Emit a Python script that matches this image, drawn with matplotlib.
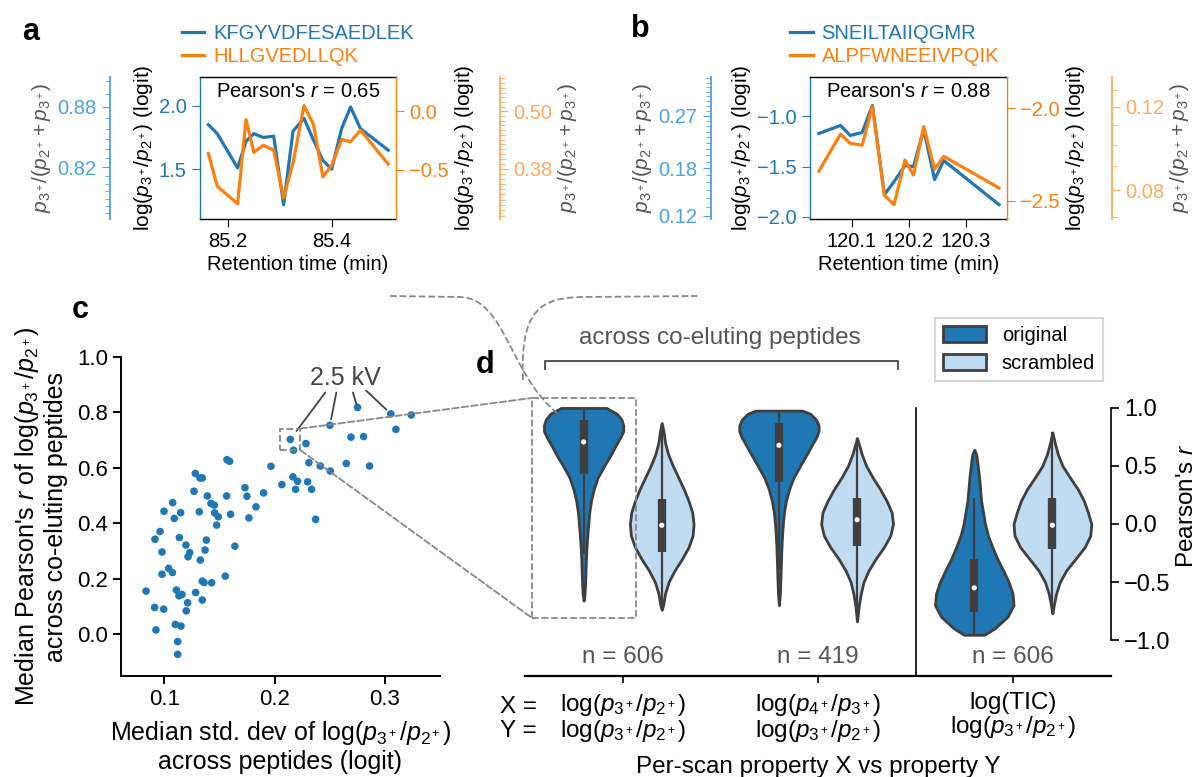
import numpy as np
import matplotlib
matplotlib.use('Agg')
import matplotlib.pyplot as plt
from matplotlib.ticker import MultipleLocator, FuncFormatter
from matplotlib.patches import Rectangle, Patch, PathPatch, ConnectionPatch
from matplotlib.path import Path

plt.rcParams['font.family'] = ['Liberation Sans', 'DejaVu Sans']
plt.rcParams['mathtext.fontset'] = 'custom'
plt.rcParams['mathtext.rm'] = 'Liberation Sans'
plt.rcParams['mathtext.it'] = 'Liberation Sans:italic'
plt.rcParams['mathtext.bf'] = 'Liberation Sans:bold'
plt.rcParams['axes.linewidth'] = 1.0

# ---- panel a: two co-eluting peptides, logit of charge ratio ----
a_names = ['KFGYVDFESAEDLEK', 'HLLGVEDLLQK']
a_time = [85.163, 85.180, 85.219, 85.235, 85.250, 85.268, 85.288, 85.307, 85.325,
          85.346, 85.364, 85.382, 85.399, 85.418, 85.435, 85.454, 85.507]
a_blue = [1.85, 1.78, 1.51, 1.72, 1.78, 1.75, 1.76, 1.22, 1.80,
          1.90, 1.73, 1.57, 1.50, 1.82, 1.99, 1.82, 1.65]
a_orange = [-0.36, -0.64, -0.79, -0.07, -0.35, -0.29, -0.33, -0.74, -0.44,
            0.05, -0.11, -0.56, -0.46, -0.24, -0.26, -0.16, -0.45]
a_r = 0.65

# ---- panel b ----
b_names = ['SNEILTAIIQGMR', 'ALPFWNEEIVPQIK']
b_time = [120.042, 120.080, 120.097, 120.118, 120.136, 120.157, 120.174,
          120.193, 120.208, 120.226, 120.245, 120.261, 120.358]
b_blue = [-1.17, -1.09, -1.19, -1.16, -0.89, -1.78, -1.65,
          -1.49, -1.50, -1.13, -1.63, -1.44, -1.88]
b_orange = [-2.34, -2.14, -2.19, -2.20, -1.99, -2.47, -2.52,
            -2.28, -2.36, -2.10, -2.33, -2.26, -2.43]
b_r = 0.88

# ---- panel c: per-run medians ----
c_std = [0.0834, 0.0912, 0.0924, 0.0915, 0.0961, 0.0979, 0.0979, 0.0994, 0.0997, 0.1039,
         0.1073, 0.1076, 0.1091, 0.1100, 0.1109, 0.1121, 0.1121, 0.1133, 0.1136, 0.1148,
         0.1151, 0.1160, 0.1196, 0.1199, 0.1211, 0.1215, 0.1230, 0.1269, 0.1281, 0.1284,
         0.1317, 0.1323, 0.1326, 0.1344, 0.1344, 0.1344, 0.1360, 0.1369, 0.1381, 0.1390,
         0.1423, 0.1429, 0.1453, 0.1456, 0.1474, 0.1489, 0.1553, 0.1565, 0.1568, 0.1592,
         0.1601, 0.1640, 0.1731, 0.1749, 0.1767, 0.1831, 0.1900, 0.1967, 0.2066, 0.2142,
         0.2166, 0.2172, 0.2190, 0.2208, 0.2284, 0.2299, 0.2311, 0.2335, 0.2372, 0.2414,
         0.2502, 0.2505, 0.2650, 0.2692, 0.2752, 0.2807, 0.2861, 0.3054, 0.3100, 0.3239]
c_r = [0.156, 0.097, 0.016, 0.343, 0.371, 0.297, 0.217, 0.091, 0.444, 0.238,
       0.223, 0.475, 0.418, 0.036, 0.160, -0.026, -0.072, 0.139, 0.349, 0.439,
       0.030, 0.144, 0.322, 0.085, 0.114, 0.280, 0.295, 0.516, 0.580, 0.151,
       0.442, 0.564, 0.268, 0.564, 0.192, 0.124, 0.187, 0.304, 0.340, 0.499,
       0.472, 0.186, 0.466, 0.438, 0.394, 0.424, 0.210, 0.499, 0.630, 0.624,
       0.433, 0.318, 0.529, 0.498, 0.420, 0.460, 0.510, 0.606, 0.540, 0.703,
       0.568, 0.664, 0.523, 0.552, 0.688, 0.550, 0.619, 0.523, 0.415, 0.607,
       0.754, 0.589, 0.616, 0.711, 0.818, 0.713, 0.607, 0.795, 0.739, 0.791]
kv_points = [(0.2142, 0.703), (0.2502, 0.754), (0.2752, 0.818), (0.3054, 0.795)]

# ---- panel d: violin outlines (r level, half width) ----
d_groups = [r'log($p_{3^+}/p_{2^+}$)' + '\n' + r'log($p_{3^+}/p_{2^+}$)',
            r'log($p_{4^+}/p_{3^+}$)' + '\n' + r'log($p_{3^+}/p_{2^+}$)',
            'log(TIC)\n' + r'log($p_{3^+}/p_{2^+}$)']
d_counts = [606, 419, 606]
d_hue = ['original', 'scrambled']
v_levels = [
    [1.0, 0.95, 0.9, 0.85, 0.8, 0.75, 0.7, 0.6, 0.5, 0.4, 0.3, 0.2, 0.1, 0.0, -0.1, -0.2, -0.3, -0.4, -0.5, -0.6, -0.66],
    [0.87, 0.8, 0.7, 0.6, 0.5, 0.4, 0.3, 0.2, 0.1, 0.0, -0.1, -0.2, -0.3, -0.4, -0.5, -0.6, -0.7, -0.74],
    [0.977, 0.95, 0.9, 0.85, 0.8, 0.75, 0.7, 0.6, 0.5, 0.4, 0.3, 0.2, 0.1, 0.0, -0.1, -0.2, -0.3, -0.4, -0.5, -0.6, -0.7],
    [0.74, 0.7, 0.6, 0.5, 0.4, 0.3, 0.2, 0.1, 0.0, -0.1, -0.2, -0.3, -0.4, -0.5, -0.6, -0.7, -0.84],
    [0.64, 0.6, 0.5, 0.4, 0.3, 0.2, 0.1, 0.0, -0.1, -0.2, -0.3, -0.4, -0.5, -0.6, -0.7, -0.8, -0.9, -0.955],
    [0.79, 0.7, 0.6, 0.5, 0.4, 0.3, 0.2, 0.1, 0.0, -0.1, -0.2, -0.3, -0.4, -0.5, -0.6, -0.7, -0.77],
]
v_halfwidth = [
    [0.116, 0.170, 0.194, 0.203, 0.203, 0.189, 0.172, 0.140, 0.105, 0.072, 0.052, 0.038, 0.029, 0.024, 0.019, 0.015, 0.012, 0.010, 0.008, 0.005, 0.0],
    [0.0, 0.009, 0.017, 0.033, 0.057, 0.085, 0.113, 0.137, 0.156, 0.163, 0.158, 0.137, 0.104, 0.066, 0.035, 0.017, 0.007, 0.0],
    [0.120, 0.160, 0.190, 0.203, 0.203, 0.192, 0.175, 0.142, 0.108, 0.075, 0.052, 0.036, 0.026, 0.020, 0.016, 0.013, 0.011, 0.009, 0.007, 0.005, 0.0],
    [0.0, 0.007, 0.024, 0.047, 0.080, 0.118, 0.151, 0.177, 0.184, 0.170, 0.137, 0.095, 0.059, 0.033, 0.019, 0.009, 0.0],
    [0.0, 0.010, 0.018, 0.025, 0.030, 0.035, 0.045, 0.055, 0.070, 0.093, 0.118, 0.148, 0.176, 0.196, 0.201, 0.170, 0.104, 0.052],
    [0.0, 0.012, 0.028, 0.052, 0.090, 0.130, 0.161, 0.182, 0.199, 0.194, 0.165, 0.118, 0.071, 0.038, 0.019, 0.007, 0.0],
]
v_q1 = [0.434, -0.244, 0.362, -0.193, -0.76, -0.213]
v_q3 = [0.894, 0.216, 0.871, 0.224, -0.30, 0.224]
v_median = [0.707, -0.011, 0.678, 0.037, -0.55, -0.011]
v_wlo = [-0.26, -0.74, -0.40, -0.84, -0.955, -0.77]
v_whi = [1.0, 0.87, 0.977, 0.74, 0.22, 0.79]

BLUE = '#1f77b4'
ORANGE = '#ff7f0e'
LBLUE = '#4ba3e3'
LORANGE = '#ffa95c'
GRAY = '#555555'
DARK = '#3f3f3f'
ORIG = '#1f77b4'
SCRAM = '#c0dcf2'

FS_AB = 14.5
FS_D = 17.5

W, H = 1202, 777
fig = plt.figure(figsize=(W / 100, H / 100), dpi=100)


def rect(left, top, right, bottom):
    return [left / W, 1 - bottom / H, (right - left) / W, (bottom - top) / H]


def fpx(x, y):
    return (x / W, 1 - y / H)


def expit(x):
    return 1 / (1 + np.exp(-np.asarray(x, dtype=float)))


def logit(p):
    p = np.clip(np.asarray(p, dtype=float), 1e-9, 1 - 1e-9)
    return np.log(p / (1 - p))


two_dec = FuncFormatter(lambda v, pos: f'{v:.2f}')
ratio_label = r'log($p_{3^+}/p_{2^+}$) (logit)'
frac_label = r'$p_{3^+}/(p_{2^+} + p_{3^+})$'


def far_axis(parent, pos, ticks, color):
    sec = parent.secondary_yaxis(pos, functions=(expit, logit))
    sec.set_yticks(ticks)
    sec.yaxis.set_minor_locator(MultipleLocator(0.01))
    sec.yaxis.set_major_formatter(two_dec)
    sec.tick_params(axis='y', which='both', colors=color, labelsize=FS_AB)
    sec.tick_params(axis='y', which='major', length=6)
    sec.tick_params(axis='y', which='minor', length=3.5)
    for s in sec.spines.values():
        s.set_color(color)
        s.set_linewidth(1.3)
    sec.set_ylabel(frac_label, fontsize=15, color=GRAY, labelpad=3)
    return sec


def ratio_panel(box, t, yb, yo, names, r, xticks, xlim, ylb, ylo, tb, to, fl, fr,
                pos_l, pos_r, leg_x):
    ax = fig.add_axes(box)
    axr = ax.twinx()
    lb, = ax.plot(t, yb, color=BLUE, lw=2.3, label=names[0])
    lo, = axr.plot(t, yo, color=ORANGE, lw=2.3, label=names[1])
    ax.set_xlim(xlim)
    ax.set_ylim(ylb)
    axr.set_ylim(ylo)
    ax.set_xticks(xticks)
    ax.set_yticks(tb)
    axr.set_yticks(to)
    ax.tick_params(labelsize=FS_AB, length=6)
    axr.tick_params(labelsize=FS_AB, length=6)
    ax.tick_params(axis='y', colors=BLUE)
    axr.tick_params(axis='y', colors=ORANGE)
    ax.spines['left'].set_color(BLUE)
    ax.spines['right'].set_visible(False)
    for s in ['left', 'top', 'bottom']:
        axr.spines[s].set_visible(False)
    axr.spines['right'].set_color(ORANGE)
    ax.set_xlabel('Retention time (min)', fontsize=FS_AB, labelpad=3)
    ax.set_ylabel(ratio_label, fontsize=15, labelpad=3)
    axr.set_ylabel(ratio_label, fontsize=15, labelpad=3)
    ax.text(0.5, 0.9, f"Pearson's $r$ = {r:.2f}", transform=ax.transAxes,
            ha='center', va='center', fontsize=FS_AB, zorder=5)
    ax.legend(handles=[lb, lo], loc='lower center', bbox_to_anchor=(leg_x, 1.0),
              frameon=False, labelcolor='linecolor', fontsize=FS_AB, handlelength=1.1,
              handletextpad=0.45, borderaxespad=0.15, labelspacing=0.2)
    far_axis(ax, pos_l, fl, LBLUE)
    far_axis(axr, pos_r, fr, LORANGE)
    return ax


ratio_panel(rect(200, 77, 396, 219), a_time, a_blue, a_orange, a_names, a_r,
            [85.2, 85.4], (85.147, 85.522), (1.108, 2.226), (-0.92, 0.294),
            [1.5, 2.0], [-0.5, 0.0], [0.82, 0.88], [0.38, 0.50], -0.459, 1.53, 0.5)
ratio_panel(rect(810, 77, 1007, 219), b_time, b_blue, b_orange, b_names, b_r,
            [120.1, 120.2, 120.3], (120.0265, 120.372), (-2.023, -0.607), (-2.597, -1.833),
            [-2.0, -1.5, -1.0], [-2.5, -2.0], [0.12, 0.18, 0.27], [0.08, 0.12],
            -0.503, 1.533, 0.43)

# ---- panel c ----
axc = fig.add_axes(rect(121, 357, 440, 676))
axc.scatter(c_std, c_r, s=30, color=BLUE, edgecolors='none', zorder=3)
axc.set_xlim(0.0607, 0.35)
axc.set_ylim(-0.15, 1.0)
cx_ticks = [0.1, 0.2, 0.3]
cy_ticks = [0.0, 0.2, 0.4, 0.6, 0.8, 1.0]
axc.set_xticks(cx_ticks, labels=[f'{v:.1f}' for v in cx_ticks], fontsize=16)
axc.set_yticks(cy_ticks, labels=[f'{v:.1f}' for v in cy_ticks], fontsize=16)
axc.spines['top'].set_visible(False)
axc.spines['right'].set_visible(False)
for s in ['left', 'bottom']:
    axc.spines[s].set_linewidth(1.4)
axc.tick_params(length=6, width=1.4)
axc.set_xlabel(r'Median std. dev of log($p_{3^+}/p_{2^+}$)' + '\nacross peptides (logit)',
               fontsize=18, labelpad=6)
axc.set_ylabel(r"Median Pearson's $r$ of log($p_{3^+}/p_{2^+}$)" + '\nacross co-eluting peptides',
               fontsize=18, labelpad=6)
axc.text(0.264, 0.926, '2.5 kV', fontsize=18, color='#444444', ha='center', va='center')
kv_starts = [(0.246, 0.872), (0.256, 0.872), (0.271, 0.872), (0.283, 0.879)]
for (px, py), (sx, sy) in zip(kv_points, kv_starts):
    ex = px + (sx - px) * 0.18
    ey = py + (sy - py) * 0.18
    axc.annotate('', xy=(ex, ey), xytext=(sx, sy),
                 arrowprops=dict(arrowstyle='-', color='#444444', lw=1.3, shrinkA=0, shrinkB=0))
zoom_c = Rectangle((0.2045, 0.664), 0.0188, 0.078, fill=False, ls='--', lw=1.3,
                   edgecolor='#888888', zorder=4)
axc.add_patch(zoom_c)

# ---- panel d ----
axd = fig.add_axes(rect(525, 336, 1111, 676))
for i in range(6):
    xc = i // 2 + (-0.2 if i % 2 == 0 else 0.2)
    fc = ORIG if i % 2 == 0 else SCRAM
    lv = np.array(v_levels[i])
    hw = np.array(v_halfwidth[i])
    axd.fill_betweenx(lv, xc - hw, xc + hw, facecolor=fc, edgecolor=DARK, lw=2.0, zorder=2)
    axd.plot([xc, xc], [v_wlo[i], v_whi[i]], color=DARK, lw=1.6, solid_capstyle='butt', zorder=3)
    axd.plot([xc, xc], [v_q1[i], v_q3[i]], color=DARK, lw=6, solid_capstyle='butt', zorder=3)
    axd.scatter([xc], [v_median[i]], s=14, color='white', zorder=4, edgecolors='none')
axd.set_xlim(-0.5, 2.5)
axd.set_ylim(-1.31, 1.62)
axd.plot([1.5, 1.5], [-1.31, 1.0], color='black', lw=1.2)
for i, n in enumerate(d_counts):
    axd.text(i, -1.15, f'n = {n}', ha='center', va='center', fontsize=FS_D, color=GRAY)
axd.set_xticks([0, 1, 2], labels=d_groups, linespacing=1.0)
axd.set_xticks([-0.5], labels=['X =  \nY =  '], minor=True, linespacing=1.1)
axd.tick_params(axis='x', which='major', length=5, width=1.2, labelsize=FS_D, pad=6.5)
axd.tick_params(axis='x', which='minor', length=5, width=0, labelsize=FS_D, pad=9.5)
axd.yaxis.tick_right()
axd.yaxis.set_label_position('right')
axd.set_yticks([-1.0, -0.5, 0.0, 0.5, 1.0])
axd.tick_params(axis='y', labelsize=FS_D - 0.5, length=6, width=1.2)
axd.spines['left'].set_visible(False)
axd.spines['top'].set_visible(False)
axd.spines['right'].set_bounds(-1.0, 1.0)
axd.spines['right'].set_linewidth(1.2)
axd.spines['bottom'].set_linewidth(1.6)
axd.set_ylabel("Pearson's $r$", fontsize=FS_D, labelpad=4)
axd.set_xlabel('Per-scan property X vs property Y', fontsize=FS_D, labelpad=9)
axd.text(0.5, 1.60, 'across co-eluting peptides', ha='center', va='center',
         fontsize=FS_D, color=GRAY)
axd.plot([-0.4, -0.4, 1.41, 1.41], [1.336, 1.405, 1.405, 1.336], color='#444444',
         lw=1.3, clip_on=False)
handles = [Patch(facecolor=ORIG, edgecolor=DARK, lw=2, label=d_hue[0]),
           Patch(facecolor=SCRAM, edgecolor=DARK, lw=2, label=d_hue[1])]
leg = axd.legend(handles=handles, loc='upper right', bbox_to_anchor=(1103 / W, 1 - 318 / H),
                 bbox_transform=fig.transFigure, borderaxespad=0, fancybox=False,
                 edgecolor='#cccccc', fontsize=14.5, handlelength=2.1, handleheight=0.8,
                 borderpad=0.4, labelspacing=0.45, handletextpad=0.8)
leg.get_frame().set_linewidth(1.5)
zoom_d = Rectangle((-0.464, -0.81), 0.533, 1.896, fill=False, ls='--', lw=1.3,
                   edgecolor='#888888', zorder=5, clip_on=False)
axd.add_patch(zoom_d)

# ---- dashed connectors between c and d ----
for yc, yd in [(0.742, 1.086), (0.664, -0.81)]:
    con = ConnectionPatch(xyA=(0.2233, yc), coordsA=axc.transData,
                          xyB=(-0.464, yd), coordsB=axd.transData,
                          ls='--', lw=1.3, color='#888888')
    fig.add_artist(con)

curve_a = Path([fpx(390, 296), fpx(460, 297), fpx(505, 298), fpx(510, 375), fpx(557, 413)],
               [Path.MOVETO, Path.LINETO, Path.CURVE4, Path.CURVE4, Path.CURVE4])
curve_b = Path([fpx(523, 380), fpx(520, 310), fpx(540, 297), fpx(585, 297), fpx(697, 296)],
               [Path.MOVETO, Path.CURVE4, Path.CURVE4, Path.CURVE4, Path.LINETO])
for cp in [curve_a, curve_b]:
    fig.add_artist(PathPatch(cp, transform=fig.transFigure, fill=False, ls='--', lw=1.3,
                             edgecolor='#888888'))

# ---- panel letters ----
for letter, (x, y) in zip('abcd', [(31, 32), (640, 29), (80, 310), (485, 365)]):
    fig.text(x / W, 1 - y / H, letter, fontsize=22, fontweight='bold',
             ha='center', va='center')

fig.savefig('out.png', dpi=100)
